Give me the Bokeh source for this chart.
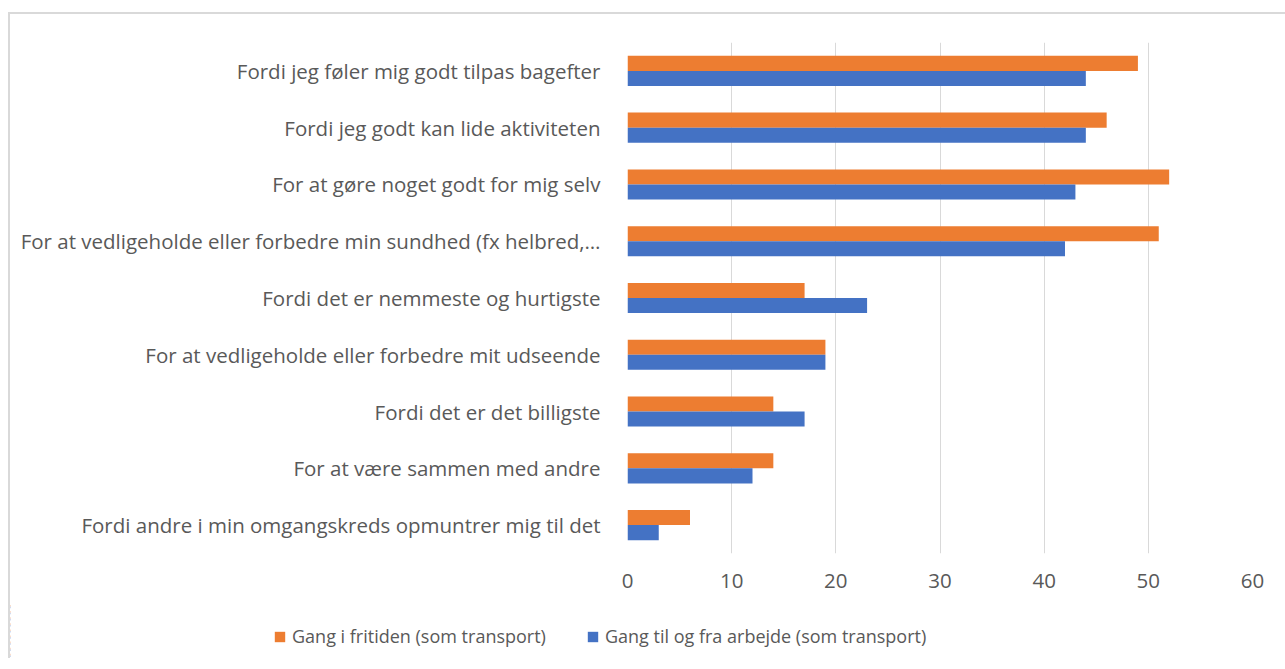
from bokeh.plotting import figure
from bokeh.models import ColumnDataSource, FactorRange, Legend, LegendItem
from bokeh.transform import dodge
from bokeh.embed import file_html
from bokeh.resources import INLINE

categories = [
    "Fordi jeg føler mig godt tilpas bagefter",
    "Fordi jeg godt kan lide aktiviteten",
    "For at gøre noget godt for mig selv",
    "For at vedligeholde eller forbedre min sundhed (fx helbred,…",
    "Fordi det er nemmeste og hurtigste",
    "For at vedligeholde eller forbedre mit udseende",
    "Fordi det er det billigste",
    "For at være sammen med andre",
    "Fordi andre i min omgangskreds opmuntrer mig til det",
]
fritid = [49, 46, 52, 51, 17, 19, 14, 14, 6]
arbejde = [44, 44, 43, 42, 23, 19, 17, 12, 3]
series_names = ["Gang i fritiden (som transport)", "Gang til og fra arbejde (som transport)"]
x_ticks = [0, 10, 20, 30, 40, 50, 60]

FONT = "Open Sans"
TXT = "#595959"
FS = "20.5px"
ORANGE = "#ED7D31"
BLUE = "#4472C4"
BORDER = "2px solid #D9D9D9"

src = ColumnDataSource(dict(cat=categories, fritid=fritid, arbejde=arbejde))

p = figure(frame_width=625, frame_height=511, output_backend="svg", toolbar_location=None,
           y_range=FactorRange(factors=list(reversed(categories)), range_padding=0),
           x_range=(0, 60))
p.min_border_left = 617
p.min_border_right = 33
p.min_border_top = 28
p.min_border_bottom = 50
p.outline_line_color = None
p.border_fill_color = "white"

p.hbar(y=dodge("cat", 0.1325, range=p.y_range), right="fritid", left=0, height=0.265,
       source=src, fill_color=ORANGE, line_color=None)
p.hbar(y=dodge("cat", -0.1325, range=p.y_range), right="arbejde", left=0, height=0.265,
       source=src, fill_color=BLUE, line_color=None)

p.xaxis.ticker = x_ticks
p.xgrid.grid_line_color = "#D9D9D9"
p.xgrid.grid_line_width = 1
p.ygrid.grid_line_color = None

for ax in (p.xaxis[0], p.yaxis[0]):
    ax.axis_line_color = None
    ax.major_tick_line_color = None
    ax.minor_tick_line_color = None
    ax.major_label_text_font = FONT
    ax.major_label_text_color = TXT
    ax.major_label_text_font_size = FS
p.xaxis.major_label_standoff = 14
p.yaxis.major_label_standoff = 21
p.styles = {"border-left": BORDER, "border-top": BORDER,
            "margin-left": "8px", "margin-top": "12px"}

# legend strip below the chart, as its own root (proxy bars lie outside its visible range)
lg = figure(width=1275, height=55, output_backend="svg", toolbar_location=None,
            y_range=FactorRange(factors=list(reversed(categories))), x_range=(1000, 1001),
            x_axis_type=None, y_axis_type=None, min_border=0)
lg.outline_line_color = None
lg.grid.grid_line_color = None
g1 = lg.hbar(y=dodge("cat", 0.1325, range=lg.y_range), right="fritid", left=0, height=0.265,
             source=src, fill_color=ORANGE, line_color=None)
g2 = lg.hbar(y=dodge("cat", -0.1325, range=lg.y_range), right="arbejde", left=0, height=0.265,
             source=src, fill_color=BLUE, line_color=None)

legend = Legend(items=[LegendItem(label=series_names[0], renderers=[g1]),
                       LegendItem(label=series_names[1], renderers=[g2])],
                orientation="horizontal", location=(263, 10),
                label_text_font=FONT, label_text_color=TXT, label_text_font_size="18px",
                glyph_width=13, glyph_height=13, spacing=40, label_standoff=6,
                border_line_color=None, background_fill_alpha=0,
                margin=0, padding=0)
lg.add_layout(legend, "center")
lg.styles = {"border-left": BORDER, "margin-left": "8px"}

open("out.html", "w").write(file_html([p, lg], INLINE))
